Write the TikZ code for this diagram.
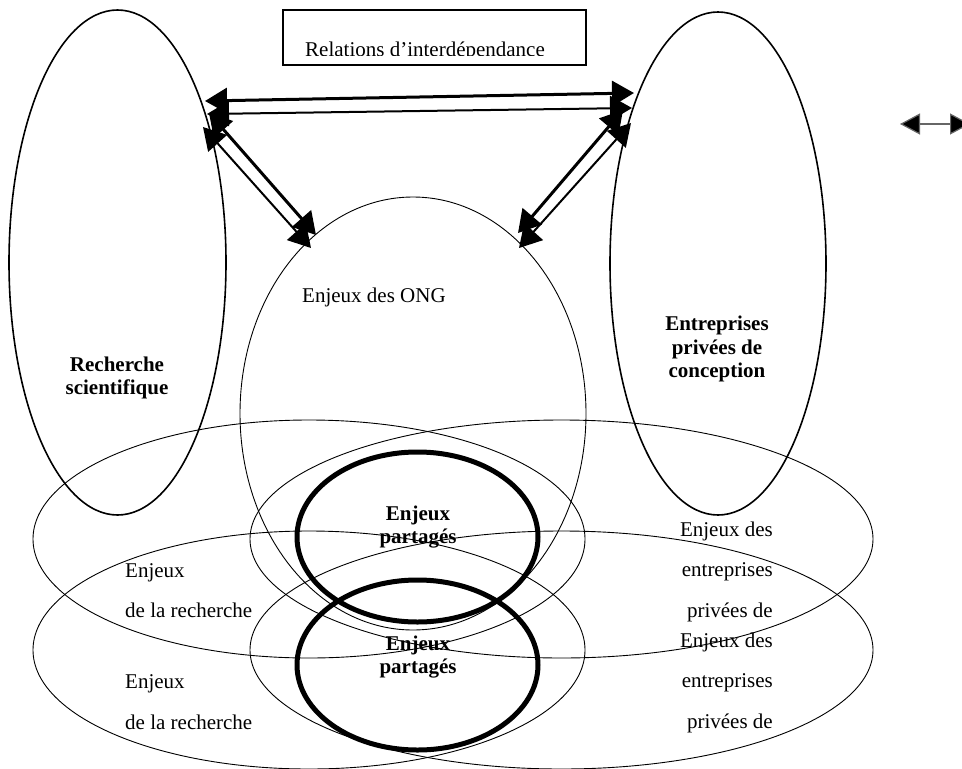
\documentclass[tikz,border=0pt]{standalone}
\usepackage{fontspec}
\setmainfont{Liberation Serif}
\usetikzlibrary{shapes.geometric,arrows.meta}
\begin{document}
\begin{tikzpicture}[x=1pt,y=-1pt,
  oval/.style={draw, ellipse, inner sep=0pt, outer sep=0pt},
  thinoval/.style={oval, line width=0.9pt},
  bigoval/.style={oval, line width=1.6pt},
  shared/.style={oval, line width=5pt},
  txt/.style={inner sep=0pt, font=\fontsize{21}{24}\selectfont},
  btxt/.style={inner sep=0pt, font=\fontsize{21}{24}\selectfont\bfseries},
  dblhead/.style={{Triangle[length=22pt,width=25pt]}-{Triangle[length=22pt,width=25pt]}},
  heavyarrow/.style={dblhead, line width=3pt},
  lightarrow/.style={dblhead, line width=2pt},
  legendarrow/.style={{Triangle[length=20pt,width=21pt,fill=black]}-{Triangle[length=20pt,width=21pt,fill=black]}, line width=1.2pt, draw=black!60}
]
\useasboundingbox (0,0) rectangle (962,769);
\clip (0,0) rectangle (962,769);

% horizontal ellipses
\node[thinoval, minimum width=552pt, minimum height=238pt] (eR1) at (309,539) {};
\node[thinoval, minimum width=623pt, minimum height=238pt] (eE1) at (561.5,539) {};
\node[thinoval, minimum width=552pt, minimum height=238pt] (eR2) at (309,650) {};
\node[thinoval, minimum width=623pt, minimum height=238pt] (eE2) at (561.5,650) {};

% NGO ellipse
\node[thinoval, minimum width=346pt, minimum height=433pt] (ong) at (413,413.5) {};

% big vertical ellipses
\node[bigoval, minimum width=217pt, minimum height=505pt] (rs) at (117.5,262.5) {};
\node[bigoval, minimum width=216pt, minimum height=503pt] (ent) at (718,263.5) {};

% shared stakes
\node[shared, minimum width=241pt, minimum height=170pt] (sh1) at (417.5,537) {};
\node[shared, minimum width=241pt, minimum height=170pt] (sh2) at (417.5,665) {};

% title box
\begin{scope}
  \clip (283,10) rectangle (586,55);
  \node[txt, anchor=base west] (rel) at (305,56.5) {Relations d’interdépendance};
\end{scope}
\node[draw, line width=1.8pt, minimum width=303pt, minimum height=55pt, inner sep=0pt] (relbox) at (434.5,37.5) {};

% labels
\node[btxt, anchor=base] (rs1) at (117,371) {Recherche};
\node[btxt, anchor=base] (rs2) at (117,394) {scientifique};
\node[btxt, anchor=base] (en1) at (717,330) {Entreprises};
\node[btxt, anchor=base] (en2) at (717,354) {privées de};
\node[btxt, anchor=base] (en3) at (717,377) {conception};
\node[txt, anchor=base west] (ongt) at (302,302) {Enjeux des ONG};

\node[btxt, anchor=base] (p1a) at (418,520) {Enjeux};
\node[btxt, anchor=base] (p1b) at (418,543) {partagés};
\node[btxt, anchor=base] (p2a) at (418,650) {Enjeux};
\node[btxt, anchor=base] (p2b) at (418,673) {partagés};

\node[txt, anchor=base west] (r1a) at (125,577) {Enjeux};
\node[txt, anchor=base west] (r1b) at (125,617) {de la recherche};
\node[txt, anchor=base west] (r2a) at (125,688) {Enjeux};
\node[txt, anchor=base west] (r2b) at (125,729) {de la recherche};

\node[txt, anchor=base east] (e1a) at (773,536) {Enjeux des};
\node[txt, anchor=base east] (e1b) at (773,576) {entreprises};
\node[txt, anchor=base east] (e1c) at (773,617) {privées de};
\node[txt, anchor=base east] (e2a) at (773,647) {Enjeux des};
\node[txt, anchor=base east] (e2b) at (773,687) {entreprises};
\node[txt, anchor=base east] (e2c) at (773,728) {privées de};

% arrow end points
\coordinate (hA1) at (205,101);
\coordinate (hA2) at (634,93);
\coordinate (hB1) at (207,114);
\coordinate (hB2) at (632,108);
\coordinate (dL1a) at (209,113);
\coordinate (dL1b) at (316,235);
\coordinate (dL2a) at (203,127);
\coordinate (dL2b) at (311,248);
\coordinate (dR1a) at (623,110);
\coordinate (dR1b) at (518,233);
\coordinate (dR2a) at (631,123);
\coordinate (dR2b) at (519,248);
\coordinate (lg1) at (900,124);
\coordinate (lg2) at (970,124);

\draw[heavyarrow] (hA1) -- (hA2);
\draw[lightarrow] (hB1) -- (hB2);
\draw[heavyarrow] (dL1a) -- (dL1b);
\draw[lightarrow] (dL2a) -- (dL2b);
\draw[heavyarrow] (dR1a) -- (dR1b);
\draw[lightarrow] (dR2a) -- (dR2b);
\draw[legendarrow] (lg1) -- (lg2);
\end{tikzpicture}
\end{document}
